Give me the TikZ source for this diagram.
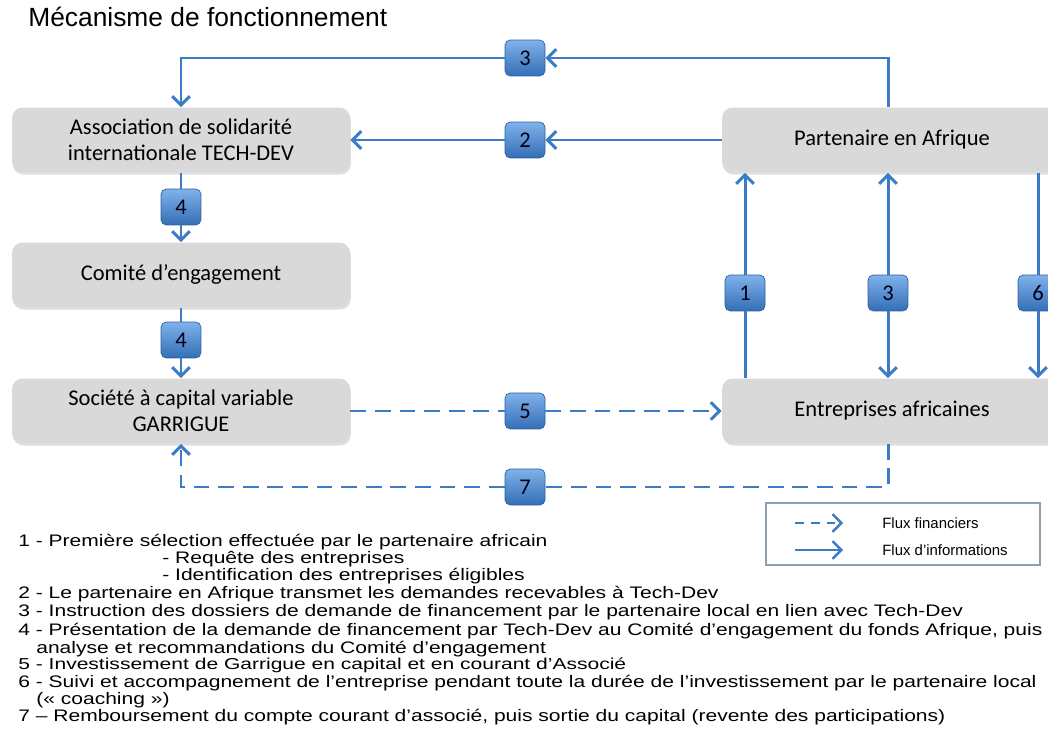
\documentclass[tikz,border=0pt]{standalone}
\usepackage{fontspec}
\setmainfont{Liberation Sans}
\newfontfamily\boitefont{Carlito}
\newfontfamily\textefont[FakeStretch=1.26]{Liberation Sans}
\newfontfamily\textelarge[FakeStretch=1.33]{Liberation Sans}
\usetikzlibrary{arrows.meta,shadows}
\definecolor{fluxbleu}{RGB}{60,124,198}
\definecolor{boitegris}{RGB}{217,217,217}
\definecolor{pastclair}{RGB}{128,178,234}
\definecolor{pastfonce}{RGB}{52,110,182}
\definecolor{pastbord}{RGB}{44,96,164}
\definecolor{legbord}{RGB}{140,160,178}
\tikzset{
	boite/.style={fill=boitegris, rounded corners=6pt, minimum width=6.76cm, minimum height=1.3cm,
		align=center, font=\boitefont\fontsize{12.8}{15}\selectfont,
		drop shadow={shadow xshift=0.5pt, shadow yshift=-1.2pt, opacity=0.25}},
	pastille/.style={rounded corners=3pt, top color=pastclair, bottom color=pastfonce, draw=pastbord,
		line width=0.4pt, minimum width=0.8cm, minimum height=0.72cm, inner sep=0pt,
		text=black!90!blue, font=\boitefont\fontsize{12.8}{15}\selectfont},
	fleche/.style={draw=fluxbleu, line width=1.7pt, -{Straight Barb[length=5pt,width=10pt]}},
	trait/.style={draw=fluxbleu, line width=1.7pt},
	tirets/.style={dash pattern=on 9pt off 5pt},
	texte/.style={anchor=base west, inner sep=0pt, font=\textefont\fontsize{9.5}{12}\selectfont}
}
\begin{document}
\begin{tikzpicture}[x=0.02cm,y=-0.02cm]
	\useasboundingbox (0,0) rectangle (1048,740);
	\clip (0,0) rectangle (1048,740);
	% titre
	\node[anchor=base west, inner sep=0pt, font=\fontsize{15}{18}\selectfont] (titre) at (28,27) {Mécanisme de fonctionnement};
	% boites
	\node[boite] (asso) at (181,140) {Association de solidarité\\internationale TECH-DEV};
	\node[boite] (comite) at (181,275) {Comité d’engagement};
	\node[boite] (garrigue) at (181,411) {Société à capital variable\\GARRIGUE};
	\node[boite, minimum width=6.8cm] (part) at (892,140) {Partenaire en Afrique};
	\node[boite, minimum width=6.8cm] (entr) at (892,411) {Entreprises africaines};
	% pastilles
	\node[pastille] (p3h) at (525,58) {3};
	\node[pastille] (p2) at (525,140) {2};
	\node[pastille] (p4a) at (181,207) {4};
	\node[pastille] (p4b) at (181,340) {4};
	\node[pastille] (p1) at (745,293) {1};
	\node[pastille] (p3v) at (888,293) {3};
	\node[pastille] (p6) at (1038,293) {6};
	\node[pastille] (p5) at (525,411) {5};
	\node[pastille] (p7) at (525,487) {7};
	% flux d'informations
	\draw[fleche] (part.north -| p3v) |- (p3h.east);
	\draw[fleche] (p3h.west) -| (asso.north);
	\draw[fleche] (part.west) -- (p2.east);
	\draw[fleche] (p2.west) -- (asso.east);
	\draw[trait] (asso.south) -- (p4a.north);
	\draw[fleche] (p4a.south) -- (comite.north);
	\draw[trait] (comite.south) -- (p4b.north);
	\draw[fleche] (p4b.south) -- (garrigue.north);
	\draw[trait] (entr.north -| p1) -- (p1.south);
	\draw[fleche] (p1.north) -- (p1 |- part.south);
	\draw[fleche] (p3v.south) -- (p3v |- entr.north);
	\draw[fleche] (p3v.north) -- (p3v |- part.south);
	\draw[trait] (part.south -| p6) -- (p6.north);
	\draw[fleche] (p6.south) -- (p6 |- entr.north);
	% flux financiers
	\draw[trait, tirets] (garrigue.east) -- (p5.west);
	\draw[fleche, tirets] (p5.east) -- (entr.west);
	\draw[trait, tirets] (entr.south -| p3v) |- (p7.east);
	\draw[fleche, tirets] (p7.west) -| (garrigue.south);
	% legende
	\node[draw=legbord, line width=0.8pt, minimum width=5.48cm, minimum height=1.24cm] (leg) at (903,534) {};
	\coordinate (lf1) at (795,523);
	\coordinate (lf2) at (843,523);
	\coordinate (li1) at (795,550);
	\coordinate (li2) at (843,550);
	\draw[fleche, line width=1.4pt, dash pattern=on 5pt off 4pt] (lf1) -- (lf2);
	\draw[fleche, line width=1.4pt] (li1) -- (li2);
	\node[anchor=west, inner sep=0pt, font=\fontsize{8.5}{10}\selectfont] (lfin) at (882,523) {Flux financiers};
	\node[anchor=west, inner sep=0pt, font=\fontsize{8.5}{10}\selectfont] (linf) at (882,550) {Flux d’informations};
	% explications
	\node[texte] (t1) at (18,546) {1 - Première sélection effectuée par le partenaire africain};
	\node[texte] (t1a) at (162,563) {- Requête des entreprises};
	\node[texte] (t1b) at (162,580) {- Identification des entreprises éligibles};
	\node[texte] (t2) at (18,598) {2 - Le partenaire en Afrique transmet les demandes recevables à Tech-Dev};
	\node[texte] (t3) at (18,616) {3 - Instruction des dossiers de demande de financement par le partenaire local en lien avec Tech-Dev};
	\node[texte] (t4) at (18,635) {4 - Présentation de la demande de financement par Tech-Dev au Comité d’engagement du fonds Afrique, puis};
	\node[texte] (t4a) at (36,653) {analyse et recommandations du Comité d’engagement};
	\node[texte, font=\textelarge\fontsize{9}{11}\selectfont] (t5) at (18,669) {5 - Investissement de Garrigue en capital et en courant d’Associé};
	\node[texte] (t6) at (18,687) {6 - Suivi et accompagnement de l’entreprise pendant toute la durée de l’investissement par le partenaire local};
	\node[texte] (t6a) at (36,704) {(« coaching »)};
	\node[texte] (t7) at (18,721) {7 – Remboursement du compte courant d’associé, puis sortie du capital (revente des participations)};
\end{tikzpicture}
\end{document}
